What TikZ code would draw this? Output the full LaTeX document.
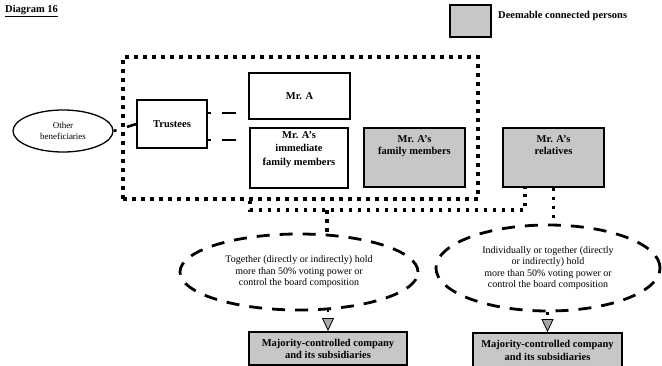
\documentclass[tikz,border=0pt]{standalone}
\usepackage{fontspec}
\setmainfont{Liberation Serif}
\usetikzlibrary{shapes.geometric,arrows.meta,calc}

\tikzset{
  box/.style={draw=black, line width=1.3pt, inner sep=1pt, align=center,
              font=\fontsize{10.5}{12}\selectfont\bfseries},
  shaded/.style={box, fill=black!22, line width=1.8pt},
  label/.style={font=\fontsize{10.5}{12}\selectfont\bfseries, align=center, anchor=north, inner sep=0pt},
  frame/.style={draw=black, line width=3.6pt, dash pattern=on 3.6pt off 5.4pt, inner sep=0pt},
  dotline/.style={draw=black, line width=3.6pt, dash pattern=on 3.6pt off 5.4pt},
  dashell/.style={ellipse, draw=black, line width=2.8pt, dash pattern=on 13pt off 10pt,
                  inner sep=0pt, align=center, font=\fontsize{10}{11.5}\selectfont},
  tie/.style={draw=black, line width=2.6pt, dash pattern=on 3pt off 11pt on 14pt off 30pt},
  arrowline/.style={draw=black, line width=2.6pt, dash pattern=on 3pt off 30pt,
                    -{Triangle[length=13pt,width=12pt,fill=black!35,line width=0.8pt]}},
}

\begin{document}
\begin{tikzpicture}[x=1pt, y=-1pt]
\useasboundingbox (0,0) rectangle (662,366);

% title and legend
\node[anchor=west, inner sep=0pt, font=\fontsize{10.5}{12}\selectfont\bfseries] (title) at (5,11)
  {\underline{Diagram 16}};
\node[shaded, minimum width=41pt, minimum height=32pt] (key) at (470.5,21) {};
\node[anchor=west, inner sep=0pt, font=\fontsize{10.5}{12}\selectfont\bfseries] (keytext) at (498,16)
  {Deemable connected persons};

% grouping frame
\node[frame, minimum width=355pt, minimum height=142pt] (grp) at (300.5,128) {};

% people
\node[ellipse, draw=black, line width=1.3pt, minimum width=100pt, minimum height=42pt,
      inner sep=0pt, align=center, font=\fontsize{9}{11.5}\selectfont] (other) at (63,131)
  {Other\\beneficiaries};
\node[box, minimum width=70pt, minimum height=48pt] (trustees) at (172,124) {Trustees};
\node[box, minimum width=101pt, minimum height=46pt] (mra) at (299.5,96) {Mr. A};
\node[box, minimum width=98pt, minimum height=60pt] (imm) at (299,158) {};
\node[label, font=\fontsize{10.5}{13.5}\selectfont\bfseries] (immtext) at (299,131)
  {Mr. A's\\immediate\\family members};
\node[shaded, minimum width=101pt, minimum height=59pt] (fam) at (414.5,157.5) {};
\node[label] (famtext) at (414.5,135) {Mr. A's\\family members};
\node[shaded, minimum width=101pt, minimum height=59pt] (rel) at (553.5,157.5) {};
\node[label] (reltext) at (553.5,135) {Mr. A's\\relatives};

% control conditions
\node[dashell, minimum width=238pt, minimum height=76pt] (lell) at (299,272)
  {Together (directly or indirectly) hold\\more than 50\% voting power or\\control the board composition};
\node[dashell, minimum width=224pt, minimum height=86pt] (rell) at (548,268)
  {Individually or together (directly\\or indirectly) hold\\more than 50\% voting power or\\control the board composition};

% controlled companies
\node[shaded, minimum width=158pt, minimum height=33pt] (lco) at (328,348.5)
  {Majority-controlled company\\and its subsidiaries};
\node[shaded, minimum width=149pt, minimum height=39pt] (rco) at (547.5,352.5) {};
\node[label, font=\fontsize{10.5}{13}\selectfont\bfseries] (rcotext) at (547.5,340)
  {Majority-controlled company\\and its subsidiaries};

% ties to the trustees
\draw[tie] (other.east) -- (trustees.west);
\draw[tie] (trustees.east |- 0,113) -- (mra.west |- 0,113);
\draw[tie] (trustees.east |- 0,140) -- (imm.west |- 0,140);

% dotted links to the conditions
\coordinate (j1) at (250,210);
\coordinate (j2) at (525,210);
\coordinate (j3) at (327,210);
\draw[dotline] (grp.south -| j1) -- (j1) -- (j2) -- (rel.south -| j2);
\draw[dotline] (j3) -- (j3 |- 0,235);
\draw[dotline] (rel.south) -- (rel.south |- rell.north);

% arrows to the companies
\draw[arrowline] (lco.north |- 0,309) -- (lco.north);
\draw[arrowline] (rco.north |- rell.south) -- (rco.north);
\end{tikzpicture}
\end{document}
